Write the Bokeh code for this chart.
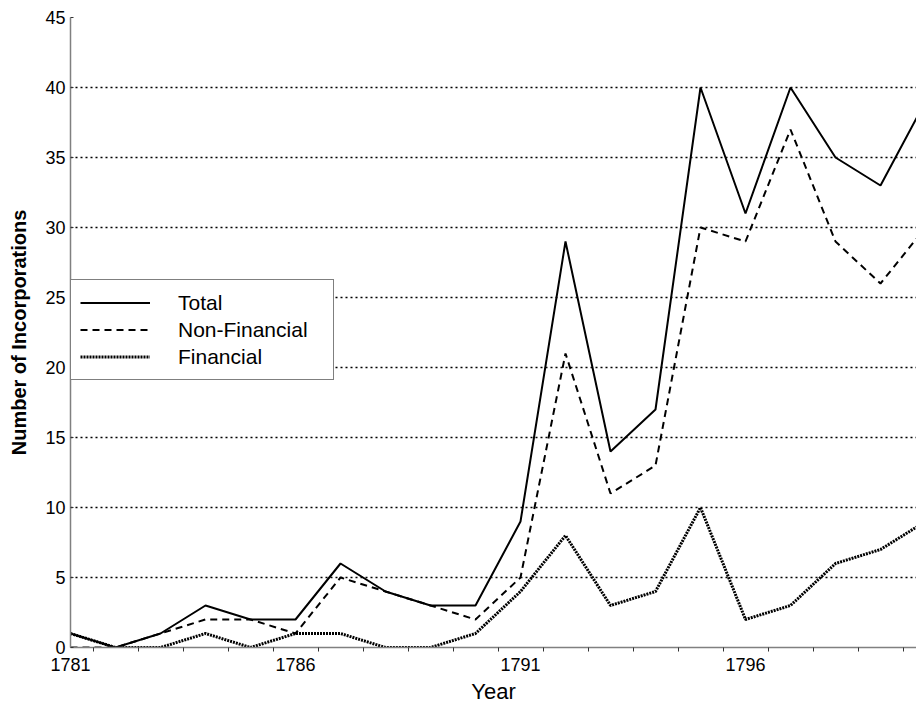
from bokeh.plotting import figure
from bokeh.models import FixedTicker, Legend, LegendItem, Range1d, ColumnDataSource
from bokeh.embed import file_html
from bokeh.resources import INLINE

# ---- data ----
years = list(range(1781, 1801))
total = [1, 0, 1, 3, 2, 2, 6, 4, 3, 3, 9, 29, 14, 17, 40, 31, 40, 35, 33, 39]
non_financial = [0, 0, 1, 2, 2, 1, 5, 4, 3, 2, 5, 21, 11, 13, 30, 29, 37, 29, 26, 30]
financial = [1, 0, 0, 1, 0, 1, 1, 0, 0, 1, 4, 8, 3, 4, 10, 2, 3, 6, 7, 9]
x_label_years = [1781, 1786, 1791, 1796]
x_minor_ticks = [y + 0.5 for y in years[:-1]]
y_ticks = list(range(0, 50, 5))

FONT = "Liberation Sans"
W, H = 916, 706
LEFT, TOP, BOTTOM = 70, 17, 59
px_per_year = 45.0
x_end = 1781 + (W - LEFT) / px_per_year

src = ColumnDataSource(dict(year=years, total=total, nonfin=non_financial, fin=financial))

p = figure(width=W, height=H, output_backend="svg", toolbar_location=None,
           x_range=Range1d(1781, x_end), y_range=Range1d(0, 45),
           min_border_left=LEFT, min_border_right=0, min_border_top=TOP,
           min_border_bottom=BOTTOM)
p.outline_line_color = None
p.background_fill_color = "white"
p.border_fill_color = "white"

# grid
p.xgrid.visible = False
p.ygrid.ticker = FixedTicker(ticks=y_ticks[1:])
p.ygrid.grid_line_color = "black"
p.ygrid.grid_line_dash = "2 3"
p.ygrid.grid_line_width = 1.7

# x axis
p.xaxis.ticker = FixedTicker(ticks=x_label_years, minor_ticks=x_minor_ticks)
p.xaxis.major_tick_in = 0
p.xaxis.major_tick_out = 0
p.xaxis.minor_tick_in = 0
p.xaxis.minor_tick_out = 4
p.xaxis.minor_tick_line_color = "#333333"
p.xaxis.axis_line_color = "#808080"
p.xaxis.axis_line_width = 1.5
p.xaxis.major_label_text_font = FONT
p.xaxis.major_label_text_font_size = "18px"
p.xaxis.major_label_text_color = "black"
p.xaxis.major_label_standoff = 6
p.xaxis.axis_label = "Year"
p.xaxis.axis_label_text_font = FONT
p.xaxis.axis_label_text_font_size = "22px"
p.xaxis.axis_label_text_font_style = "normal"
p.xaxis.axis_label_text_color = "black"
p.xaxis.axis_label_standoff = 5

# y axis
p.yaxis.ticker = FixedTicker(ticks=y_ticks)
p.yaxis.major_tick_in = 3
p.yaxis.major_tick_out = 0
p.yaxis.minor_tick_in = 0
p.yaxis.minor_tick_out = 0
p.yaxis.major_tick_line_color = "#333333"
p.yaxis.axis_line_color = "#808080"
p.yaxis.axis_line_width = 1.5
p.yaxis.major_label_text_font = FONT
p.yaxis.major_label_text_font_size = "18px"
p.yaxis.major_label_text_color = "black"
p.yaxis.major_label_standoff = 5
p.yaxis.axis_label = "Number of Incorporations"
p.yaxis.axis_label_text_font = FONT
p.yaxis.axis_label_text_font_size = "20px"
p.yaxis.axis_label_text_font_style = "bold"
p.yaxis.axis_label_text_color = "black"
p.yaxis.axis_label_standoff = 12

# lines
r_total = p.line("year", "total", source=src, line_color="black", line_width=2)
r_nonfin = p.line("year", "nonfin", source=src, line_color="black", line_width=2,
                  line_dash="7 5")
r_fin = p.line("year", "fin", source=src, line_color="black", line_width=3,
               line_dash="2 1")

legend = Legend(items=[LegendItem(label="Total", renderers=[r_total]),
                       LegendItem(label="Non-Financial", renderers=[r_nonfin]),
                       LegendItem(label="Financial", renderers=[r_fin])],
                location=(0, 267), margin=0, padding=9, spacing=0,
                glyph_width=70, glyph_height=27, label_height=27,
                label_standoff=28, label_width=146,
                label_text_font=FONT, label_text_font_size="21px",
                label_text_color="black",
                border_line_color="black", border_line_width=1,
                background_fill_color="white", background_fill_alpha=1.0)
p.add_layout(legend)

open("out.html", "w").write(file_html(p, INLINE))
